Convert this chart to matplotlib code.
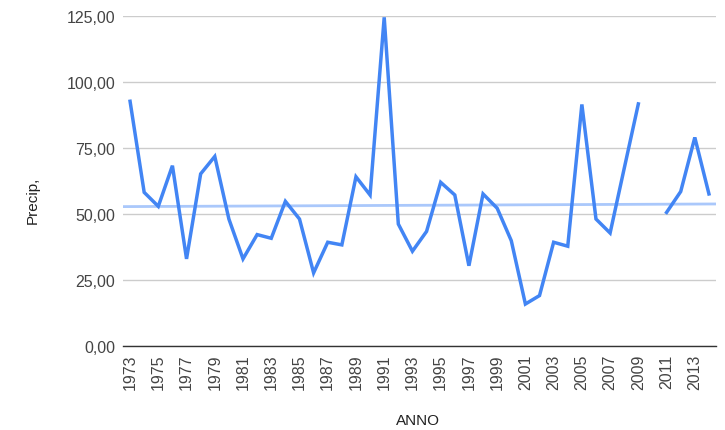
import numpy as np
import matplotlib
matplotlib.use("Agg")
import matplotlib.pyplot as plt

plt.rcParams['font.family'] = ['Liberation Sans', 'DejaVu Sans']

years = list(range(1973, 2015))
precip = [92.7, 58.2, 52.9, 68.3, 33.0, 65.2, 71.8, 48.1, 33.0, 42.2,
          40.8, 54.8, 48.1, 27.7, 39.3, 38.3, 64.1, 57.2, 124.5, 46.2,
          35.9, 43.4, 62.0, 57.2, 30.4, 57.6, 52.2, 39.9, 15.9, 19.1,
          39.3, 37.8, 91.5, 48.1, 42.8, 67.3, 91.7, np.nan, 50.6, 58.5,
          79.0, 57.6]
trend_years = [1972.5, 2014.5]
trend_values = [52.8, 53.8]
yticks = [0, 25, 50, 75, 100, 125]
ytick_labels = ["0,00", "25,00", "50,00", "75,00", "100,00", "125,00"]
xtick_years = list(range(1973, 2014, 2))

fig = plt.figure(figsize=(7.25, 4.31), dpi=100)
ax = fig.add_axes([123/725, 1-347/431, (716-123)/725, (347-17)/431])

ax.plot(trend_years, trend_values, color='#aac8fb', lw=2.0, zorder=2)
ax.plot(years, precip, color='#4285f4', lw=2.5, zorder=3,
        solid_joinstyle='miter')

ax.set_xlim(1972.5, 2014.5)
ax.set_ylim(0, 125)
ax.set_yticks(yticks)
ax.set_yticklabels(ytick_labels)
ax.set_xticks(xtick_years)
ax.set_xticklabels([str(y) for y in xtick_years], rotation=90)
ax.grid(axis='y', color='#cccccc', lw=1.0)
ax.set_axisbelow(True)
for s in ['top', 'right', 'left']:
    ax.spines[s].set_visible(False)
ax.spines['bottom'].set_color('#333333')
ax.spines['bottom'].set_linewidth(1.0)
ax.tick_params(axis='both', length=0, labelsize=11.5, colors='#444444')
ax.tick_params(axis='x', pad=5.5)
ax.tick_params(axis='y', pad=5.5)

ax.set_xlabel("ANNO", fontsize=11, color='#222222', va='center')
ax.xaxis.set_label_coords((418-123)/593, -(421-347)/330)
ax.set_ylabel("Precip,", fontsize=11, color='#222222', va='center')
ax.yaxis.set_label_coords(-(123-33)/593, (347-200)/330)

fig.savefig("out.png", dpi=100)
